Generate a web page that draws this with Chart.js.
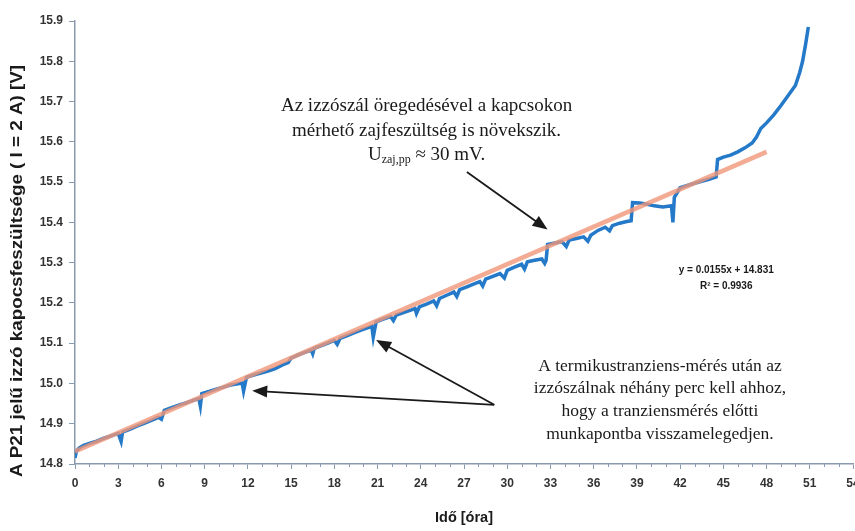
<!DOCTYPE html>
<html><head><meta charset="utf-8">
<script src="https://cdn.jsdelivr.net/npm/chart.js@4/dist/chart.umd.min.js"></script>
<style>html,body{margin:0;padding:0;background:#fff;overflow:hidden}#wrap{width:855px;height:531px;position:relative}</style>
</head><body><div id="wrap"><canvas id="c" width="855" height="531"></canvas></div>
<script>
// ---- data ----
const hours = [0,0.1,0.3,0.6,1.0,1.5,2.0,2.5,3.0,3.2,3.3,3.8,4.3,4.8,5.3,5.8,6.0,6.2,6.7,7.2,7.7,8.2,8.6,8.7,8.8,9.3,9.8,10.3,10.8,11.3,11.6,11.7,11.9,12.4,12.9,13.4,13.9,14.4,14.8,15.0,15.5,16.0,16.4,16.5,16.6,17.1,17.6,18.0,18.2,18.4,18.9,19.4,19.9,20.4,20.6,20.7,20.9,21.4,21.9,22.1,22.3,22.8,23.3,23.6,23.7,23.9,24.4,24.9,25.1,25.3,25.8,26.3,26.5,26.7,27.2,27.7,28.1,28.3,28.5,29.0,29.5,29.8,30.0,30.5,31.0,31.2,31.4,31.9,32.4,32.6,32.7,32.8,33.3,33.8,34.1,34.3,34.8,35.3,35.6,35.8,36.3,36.8,37.1,37.3,37.8,38.3,38.6,38.7,39.2,39.7,40.2,40.8,41.4,41.5,41.6,42.0,42.5,43.0,43.5,44.0,44.5,44.6,45.0,45.5,46.0,46.5,47.0,47.3,47.6,48.0,48.5,49.0,49.5,50.0,50.3,50.5,50.7,50.9];
const volts = [14.815,14.832,14.840,14.846,14.851,14.857,14.864,14.870,14.876,14.856,14.879,14.886,14.894,14.901,14.908,14.916,14.911,14.933,14.940,14.946,14.952,14.958,14.962,14.944,14.975,14.980,14.986,14.991,14.996,14.999,15.001,14.981,15.015,15.021,15.026,15.031,15.037,15.046,15.052,15.063,15.071,15.078,15.083,15.074,15.087,15.094,15.101,15.107,15.097,15.112,15.119,15.126,15.133,15.139,15.142,15.115,15.153,15.160,15.166,15.156,15.170,15.176,15.182,15.186,15.174,15.190,15.197,15.205,15.193,15.211,15.219,15.227,15.216,15.233,15.240,15.247,15.253,15.242,15.259,15.266,15.273,15.262,15.281,15.289,15.296,15.284,15.302,15.306,15.309,15.298,15.306,15.345,15.349,15.352,15.340,15.356,15.360,15.364,15.353,15.368,15.380,15.388,15.379,15.392,15.398,15.402,15.404,15.449,15.448,15.445,15.441,15.438,15.441,15.400,15.462,15.486,15.492,15.497,15.502,15.507,15.513,15.556,15.562,15.567,15.575,15.585,15.597,15.612,15.633,15.647,15.667,15.690,15.715,15.740,15.772,15.800,15.840,15.885];
const trendHours = [0, 48];
const trendVolts = [14.831, 15.575];
const xTickValues = [0,3,6,9,12,15,18,21,24,27,30,33,36,39,42,45,48,51,54];
const yTickValues = [14.8,14.9,15.0,15.1,15.2,15.3,15.4,15.5,15.6,15.7,15.8,15.9];
const xMinorStep = 1;
const xTitle = 'Idő [óra]';
const yTitle = 'A P21 jelű izzó kapocsfeszültsége ( I = 2 A) [V]';
const noteAgeing = ['Az izzószál öregedésével a kapcsokon', 'mérhető zajfeszültség is növekszik.'];
const noteAgeingU = ['U', 'zaj,pp', ' ≈ 30 mV.'];
const noteTransient = ['A termikustranziens-mérés után az', 'izzószálnak néhány perc kell ahhoz,', 'hogy a tranziensmérés előtti', 'munkapontba visszamelegedjen.'];
const trendText = ['y = 0.0155x + 14.831', 'R² = 0.9936'];
// annotation anchors in data units (hours, volts)
const ageingTextAt = [24.4, 15.69];
const ageingArrow = [[27.2, 15.525], [32.8, 15.382]];
const transientTextAt = [40.6, 15.043];
const transientTail = [29.1, 14.947];
const transientTips = [[20.9, 15.108], [12.3, 14.982]];
const trendTextAt = [45.2, 15.28];

const INK = '#1a1a1a';

function drawArrow(ctx, x1, y1, x2, y2) {
  const a = Math.atan2(y2 - y1, x2 - x1), L = 15, W = 6;
  const c = Math.cos(a), s = Math.sin(a);
  ctx.beginPath(); ctx.moveTo(x1, y1); ctx.lineTo(x2 - L * 0.7 * c, y2 - L * 0.7 * s); ctx.stroke();
  ctx.beginPath(); ctx.moveTo(x2, y2);
  ctx.lineTo(x2 - L * c + W * s, y2 - L * s - W * c);
  ctx.lineTo(x2 - L * c - W * s, y2 - L * s + W * c);
  ctx.closePath(); ctx.fill();
}

const notes = {
  id: 'notes',
  afterDraw(chart) {
    const ctx = chart.ctx, X = chart.scales.x, Y = chart.scales.y;
    const px = v => X.getPixelForValue(v), py = v => Y.getPixelForValue(v);
    ctx.save();
    // minor ticks on x axis
    ctx.strokeStyle = '#8a9bb0'; ctx.lineWidth = 1;
    for (let h = X.min; h <= X.max; h += xMinorStep) {
      if (xTickValues.includes(h)) continue;
      const x = Math.round(px(h)) + 0.5;
      ctx.beginPath(); ctx.moveTo(x, Y.bottom); ctx.lineTo(x, Y.bottom + 3); ctx.stroke();
    }
    // y title (stretched to the length it has in the reference)
    ctx.save();
    ctx.font = 'bold 16px "Liberation Sans", Arial, sans-serif';
    const tw = ctx.measureText(yTitle).width;
    ctx.translate(18, 271); ctx.rotate(-Math.PI / 2); ctx.scale(412 / tw, 1);
    ctx.fillStyle = INK; ctx.textAlign = 'center'; ctx.textBaseline = 'middle';
    ctx.fillText(yTitle, 0, 0);
    ctx.restore();
    // ageing note
    ctx.fillStyle = INK; ctx.textAlign = 'center'; ctx.textBaseline = 'middle';
    const big = '19px "Liberation Serif", "Times New Roman", serif', small = '12px "Liberation Serif", serif';
    ctx.font = big;
    const ax = px(ageingTextAt[0]), ay = py(ageingTextAt[1]);
    noteAgeing.forEach((t, i) => ctx.fillText(t, ax, ay + i * 25));
    const w0 = ctx.measureText(noteAgeingU[0]).width, w2 = ctx.measureText(noteAgeingU[2]).width;
    ctx.font = small; const w1 = ctx.measureText(noteAgeingU[1]).width;
    let sx = ax - (w0 + w1 + w2) / 2; const ly = ay + 49;
    ctx.textAlign = 'left';
    ctx.font = big; ctx.fillText(noteAgeingU[0], sx, ly); sx += w0;
    ctx.font = small; ctx.fillText(noteAgeingU[1], sx, ly + 5); sx += w1;
    ctx.font = big; ctx.fillText(noteAgeingU[2], sx, ly);
    // transient note
    ctx.textAlign = 'center';
    ctx.font = '17.5px "Liberation Serif", "Times New Roman", serif';
    const tx = px(transientTextAt[0]), ty = py(transientTextAt[1]);
    noteTransient.forEach((t, i) => ctx.fillText(t, tx, ty + i * 22.7));
    // trend equation
    ctx.font = 'bold 10px "Liberation Sans", Arial, sans-serif';
    const ex = px(trendTextAt[0]), ey = py(trendTextAt[1]);
    trendText.forEach((t, i) => ctx.fillText(t, ex, ey + i * 16));
    // arrows
    ctx.strokeStyle = INK; ctx.fillStyle = INK; ctx.lineWidth = 1.8;
    drawArrow(ctx, px(ageingArrow[0][0]), py(ageingArrow[0][1]), px(ageingArrow[1][0]), py(ageingArrow[1][1]));
    transientTips.forEach(tp => drawArrow(ctx, px(transientTail[0]), py(transientTail[1]), px(tp[0]), py(tp[1])));
    ctx.restore();
  }
};

const axisColor = '#8a9bb0';
const tickFont = { family: '"Liberation Sans", Arial, sans-serif', size: 12, weight: 'bold' };

new Chart(document.getElementById('c'), {
  type: 'scatter',
  data: {
    datasets: [
      { label: 'Kapocsfeszültség', data: hours.map((h, i) => ({ x: h, y: volts[i] })),
        showLine: true, borderColor: '#2479c9', backgroundColor: '#2479c9', borderWidth: 3.5,
        pointRadius: 0, tension: 0, order: 1 },
      { label: 'Lineáris trend', data: trendHours.map((h, i) => ({ x: h, y: trendVolts[i] })),
        showLine: true, borderColor: 'rgba(240,150,120,0.8)', borderWidth: 4.5,
        pointRadius: 0, order: 0 }
    ]
  },
  options: {
    responsive: false, animation: false,
    layout: { padding: { top: 21, right: 2, left: 0, bottom: 0 } },
    plugins: { legend: { display: false }, tooltip: { enabled: false } },
    scales: {
      x: {
        type: 'linear', min: 0, max: 54,
        afterBuildTicks: s => { s.ticks = xTickValues.map(v => ({ value: v })); },
        afterFit: s => { s.height = 67; s.paddingLeft = 0; s.paddingRight = 0; },
        ticks: { font: tickFont, color: '#333', padding: 7, maxRotation: 0, autoSkip: false, callback: v => String(v) },
        grid: { drawOnChartArea: false, drawTicks: true, tickLength: 5, color: axisColor },
        border: { display: true, color: axisColor, width: 1.5 },
        title: { display: true, text: xTitle, color: INK, font: { family: '"Liberation Sans", Arial, sans-serif', size: 14.5, weight: 'bold' }, padding: { top: 0, bottom: 4 } }
      },
      y: {
        type: 'linear', min: 14.8, max: 15.9,
        afterBuildTicks: s => { s.ticks = yTickValues.map(v => ({ value: v })); },
        afterFit: s => { s.width = 75; s.paddingTop = 0; s.paddingBottom = 0; },
        ticks: { font: tickFont, color: '#333', padding: 6, autoSkip: false, callback: v => v.toFixed(1) },
        grid: { drawOnChartArea: false, drawTicks: true, tickLength: 6, color: axisColor },
        border: { display: true, color: axisColor, width: 1.5 }
      }
    }
  },
  plugins: [notes]
});
</script>
</body></html>
